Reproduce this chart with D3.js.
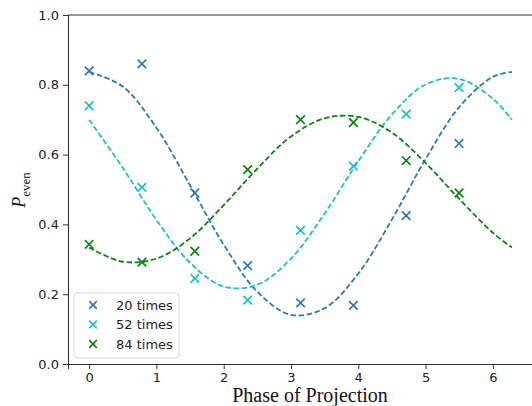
<!DOCTYPE html>
<html>
<head>
<meta charset="utf-8">
<script src="https://cdn.jsdelivr.net/npm/d3@7"></script>
<style>
  body { margin: 0; background: #fff; }
  svg { display: block; }
  .tick text { font-family: "DejaVu Sans", sans-serif; font-size: 13px; fill: #222; }
</style>
</head>
<body>
<svg id="chart" width="532" height="406"></svg>
<script>
// measured points (phase, P_even)
const phases = [0, 0.785, 1.571, 2.356, 3.142, 3.927, 4.712, 5.498];
const p20 = [0.840, 0.860, 0.490, 0.282, 0.175, 0.168, 0.425, 0.632];
const p52 = [0.740, 0.506, 0.245, 0.183, 0.383, 0.567, 0.716, 0.792];
const p84 = [0.343, 0.292, 0.323, 0.557, 0.700, 0.692, 0.583, 0.490];

// dashed fit curves
const fitX   = [0, 0.5, 1.0, 1.5, 2.0, 2.5, 3.0, 3.5, 4.0, 4.5, 5.0, 5.5, 6.0, 6.283];
const fit20  = [0.837, 0.795, 0.677, 0.512, 0.342, 0.207, 0.141, 0.160, 0.259, 0.414, 0.587, 0.736, 0.823, 0.837];
const fit52  = [0.700, 0.562, 0.413, 0.290, 0.222, 0.227, 0.302, 0.431, 0.581, 0.715, 0.801, 0.817, 0.760, 0.700];
const fit84  = [0.334, 0.293, 0.302, 0.360, 0.455, 0.560, 0.652, 0.704, 0.708, 0.663, 0.576, 0.473, 0.376, 0.334];

const xTicks = [0, 1, 2, 3, 4, 5, 6];
const yTicks = [0.0, 0.2, 0.4, 0.6, 0.8, 1.0];

const series = [
  { label: "20 times", pts: p20, fit: fit20, color: "#2a7ab8" },
  { label: "52 times", pts: p52, fit: fit52, color: "#1cc1c8" },
  { label: "84 times", pts: p84, fit: fit84, color: "#0a840a" }
];

const svg = d3.select("#chart");
const padL = 68, padR = 533, padT = 15, padB = 364;

const x = d3.scaleLinear().domain([-0.314, 6.597]).range([padL, padR]);
const y = d3.scaleLinear().domain([0, 1]).range([padB, padT]);

// lines first
const line = d3.line()
  .x((d, i) => x(fitX[i]))
  .y(d => y(d))
  .curve(d3.curveCatmullRom.alpha(0.5));

series.forEach(s => {
  svg.append("path")
    .attr("d", line(s.fit))
    .attr("fill", "none")
    .attr("stroke", s.color)
    .attr("stroke-width", 1.8)
    .attr("stroke-dasharray", "5.5,2.6");
});

// x markers
function cross(g, cx, cy, r, color) {
  g.append("path")
    .attr("d", `M${cx - r},${cy - r}L${cx + r},${cy + r}M${cx - r},${cy + r}L${cx + r},${cy - r}`)
    .attr("stroke", color)
    .attr("stroke-width", 1.7)
    .attr("fill", "none");
}

series.forEach(s => {
  const g = svg.append("g");
  s.pts.forEach((v, i) => cross(g, x(phases[i]), y(v), 4.3, s.color));
});

// axes
const xAxis = svg.append("g")
  .attr("transform", `translate(0,${padB})`)
  .call(d3.axisBottom(x).tickValues(xTicks).tickFormat(d3.format("d")).tickSize(5).tickPadding(4));
const yAxis = svg.append("g")
  .attr("transform", `translate(${padL},0)`)
  .call(d3.axisLeft(y).tickValues(yTicks).tickFormat(d3.format(".1f")).tickSize(5).tickPadding(4));

[xAxis, yAxis].forEach(a => {
  a.select(".domain").attr("stroke", "#333").attr("stroke-width", 1.1);
  a.selectAll(".tick line").attr("stroke", "#333").attr("stroke-width", 1);
});

// top and right spines
svg.append("line").attr("x1", padL).attr("x2", padR).attr("y1", padT).attr("y2", padT)
  .attr("stroke", "#333").attr("stroke-width", 1.1);
svg.append("line").attr("x1", padR).attr("x2", padR).attr("y1", padT).attr("y2", padB)
  .attr("stroke", "#333").attr("stroke-width", 1.1);

// legend
const leg = svg.append("g");
leg.append("rect")
  .attr("x", 74).attr("y", 293).attr("width", 105).attr("height", 65)
  .attr("rx", 3).attr("fill", "#fff").attr("fill-opacity", 0.8)
  .attr("stroke", "#d6d6d6").attr("stroke-width", 1);
series.forEach((s, i) => {
  const ry = 305 + i * 19.5;
  cross(leg, 93, ry, 3.8, s.color);
  leg.append("text")
    .attr("x", 116).attr("y", ry + 4.5)
    .attr("font-family", "DejaVu Sans, sans-serif")
    .attr("font-size", 13).attr("fill", "#222")
    .text(s.label);
});

// axis labels
svg.append("text")
  .attr("x", 310).attr("y", 402)
  .attr("text-anchor", "middle")
  .attr("font-family", "Liberation Serif, Times New Roman, serif")
  .attr("font-size", 20).attr("fill", "#111")
  .text("Phase of Projection");

const yl = svg.append("text")
  .attr("transform", "translate(25,190) rotate(-90)")
  .attr("text-anchor", "middle")
  .attr("font-family", "Liberation Serif, Times New Roman, serif")
  .attr("fill", "#111");
yl.append("tspan").attr("font-style", "italic").attr("font-size", 18).text("P");
yl.append("tspan").attr("font-size", 13).attr("dy", 5).text("even");
</script>
</body>
</html>
